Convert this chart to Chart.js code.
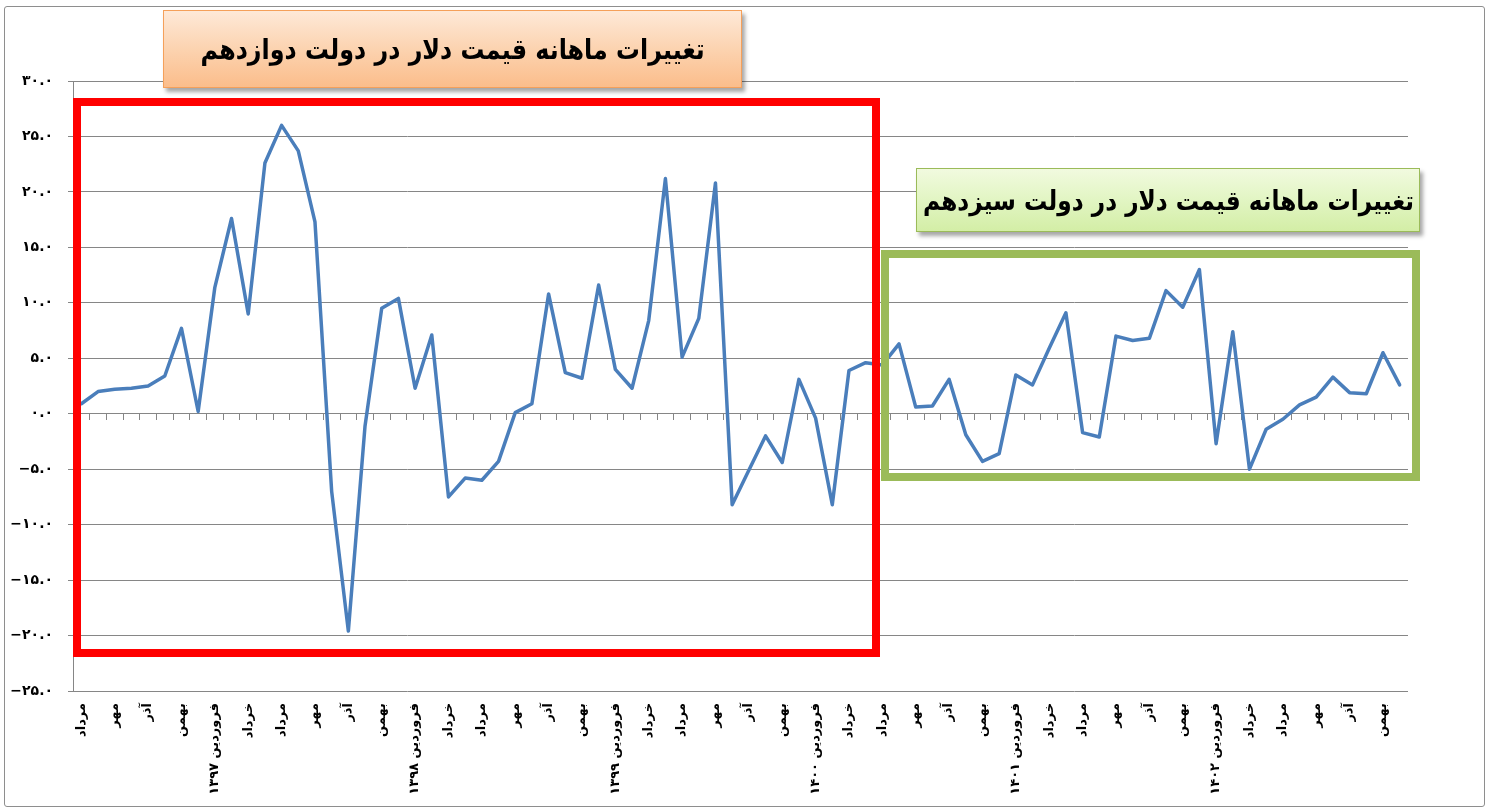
<!DOCTYPE html>
<html lang="fa">
<head>
<meta charset="utf-8">
<script src="https://cdn.jsdelivr.net/npm/chart.js@4.4.1/dist/chart.umd.min.js"></script>
<style>
  html, body { margin: 0; padding: 0; background: #ffffff; }
  #wrap { position: relative; width: 1491px; height: 810px; overflow: hidden; }
  #wrap canvas { position: absolute; left: 0; top: 0; }
  .ov { position: absolute; box-sizing: border-box; pointer-events: none; }
  .frame { left: 4px; top: 6px; width: 1481px; height: 801px; border: 1px solid #8e8e8e; border-radius: 3px; }
  .redbox { left: 73px; top: 98px; width: 807px; height: 559px; border: 8px solid #ff0000; }
  .greenbox { left: 881px; top: 250px; width: 539px; height: 231px; border: 8px solid #9bbb59; }
  .title { display: flex; align-items: center; justify-content: center; direction: rtl;
           font-family: "DejaVu Sans", sans-serif; font-weight: bold; color: #000; white-space: nowrap; }
  .title span { display: inline-block; }
  .t1 { left: 163px; top: 10px; width: 579px; height: 78px; font-size: 28px;
        background: linear-gradient(to bottom, #fee9d8 0%, #fcd3b0 50%, #fbbd8b 100%);
        border: 1px solid #f5a05a; box-shadow: 3px 4px 4px rgba(0,0,0,0.35); }
  .t1 span { transform: scaleX(0.85); }
  .t2 { left: 916px; top: 168px; width: 504px; height: 64px; font-size: 27px;
        background: linear-gradient(to bottom, #f1fadf 0%, #e2f5c3 50%, #d3eea6 100%);
        border: 1px solid #9bbb59; box-shadow: 3px 4px 4px rgba(0,0,0,0.35); }
  .t2 span { transform: scaleX(0.86); }
</style>
</head>
<body>
<div id="wrap">
  <canvas id="c" width="1491" height="810"></canvas>
  <div class="ov frame"></div>
  <div class="ov redbox"></div>
  <div class="ov greenbox"></div>
  <div class="ov title t1"><span>تغییرات ماهانه قیمت دلار در دولت دوازدهم</span></div>
  <div class="ov title t2"><span>تغییرات ماهانه قیمت دلار در دولت سیزدهم</span></div>
</div>
<script>
// Month categories (مرداد ۱۳۹۶ to اسفند ۱۴۰۲)
const categories = [
  'مرداد','شهریور','مهر','آبان','آذر','دی','بهمن','اسفند',
  'فروردین ۱۳۹۷','اردیبهشت','خرداد','تیر','مرداد','شهریور','مهر','آبان','آذر','دی','بهمن','اسفند',
  'فروردین ۱۳۹۸','اردیبهشت','خرداد','تیر','مرداد','شهریور','مهر','آبان','آذر','دی','بهمن','اسفند',
  'فروردین ۱۳۹۹','اردیبهشت','خرداد','تیر','مرداد','شهریور','مهر','آبان','آذر','دی','بهمن','اسفند',
  'فروردین ۱۴۰۰','اردیبهشت','خرداد','تیر','مرداد','شهریور','مهر','آبان','آذر','دی','بهمن','اسفند',
  'فروردین ۱۴۰۱','اردیبهشت','خرداد','تیر','مرداد','شهریور','مهر','آبان','آذر','دی','بهمن','اسفند',
  'فروردین ۱۴۰۲','اردیبهشت','خرداد','تیر','مرداد','شهریور','مهر','آبان','آذر','دی','بهمن','اسفند'
];

// Monthly change of dollar price (%)
const monthlyChange = [
  0.9, 2.0, 2.2, 2.3, 2.5, 3.4, 7.7, 0.2,
  11.4, 17.6, 9.0, 22.6, 26.0, 23.7, 17.3, -7.0, -19.6, -1.1, 9.5, 10.4,
  2.3, 7.1, -7.5, -5.8, -6.0, -4.3, 0.1, 0.9, 10.8, 3.7, 3.2, 11.6,
  4.0, 2.3, 8.4, 21.2, 5.1, 8.6, 20.8, -8.2, -5.1, -2.0, -4.4, 3.1,
  -0.4, -8.2, 3.9, 4.6, 4.4, 6.3, 0.6, 0.7, 3.1, -1.9, -4.3, -3.6,
  3.5, 2.6, 5.9, 9.1, -1.7, -2.1, 7.0, 6.6, 6.8, 11.1, 9.6, 13.0,
  -2.7, 7.4, -5.0, -1.4, -0.5, 0.8, 1.5, 3.3, 1.9, 1.8, 5.5, 2.6
];

// Y axis range / tick step
const yMin = -25;
const yMax = 30;
const yStep = 5;

const faDigits = '۰۱۲۳۴۵۶۷۸۹';
function toFa(str) {
  return str.replace(/[0-9]/g, d => faDigits[+d]).replace('-', '−');
}

const gridColor = '#868686';
const labelFont = { family: 'DejaVu Sans', weight: 'bold', size: 13 };

new Chart(document.getElementById('c'), {
  type: 'line',
  data: {
    labels: categories,
    datasets: [{
      data: monthlyChange,
      borderColor: '#4a7ebb',
      borderWidth: 3.5,
      pointRadius: 0,
      pointHoverRadius: 0,
      tension: 0,
      borderJoinStyle: 'round',
      borderCapStyle: 'round',
      fill: false,
      xAxisID: 'x',
      yAxisID: 'y'
    }]
  },
  options: {
    responsive: false,
    animation: false,
    devicePixelRatio: 1,
    layout: { padding: { top: 81, right: 83, left: 0, bottom: 0 } },
    plugins: { legend: { display: false }, tooltip: { enabled: false }, title: { display: false } },
    scales: {
      x: {
        type: 'category',
        position: 'bottom',
        offset: true,
        grid: { display: false, drawTicks: false },
        border: { display: false },
        ticks: {
          autoSkip: false,
          minRotation: 90,
          maxRotation: 90,
          padding: 12,
          color: '#000',
          font: labelFont,
          callback: function (v, i) { return i % 2 === 0 ? categories[i] : ''; }
        },
        afterFit: function (s) { s.height = 119; }
      },
      x0: {
        type: 'category',
        position: { y: 0 },
        offset: true,
        grid: { display: true, offset: true, drawOnChartArea: false, drawTicks: true, tickLength: 6, color: gridColor, lineWidth: 1 },
        border: { display: true, color: gridColor, width: 1 },
        ticks: { display: false, autoSkip: false }
      },
      y: {
        type: 'linear',
        min: yMin,
        max: yMax,
        ticks: {
          stepSize: yStep,
          padding: 15,
          color: '#000',
          font: { family: 'DejaVu Sans', weight: 'bold', size: 14 },
          callback: function (v) { return toFa(Number(v).toFixed(1)); }
        },
        grid: { color: gridColor, lineWidth: 1, tickLength: 5 },
        border: { display: true, color: gridColor, width: 1 },
        afterFit: function (s) { s.width = 73; }
      }
    }
  }
});
</script>
</body>
</html>
